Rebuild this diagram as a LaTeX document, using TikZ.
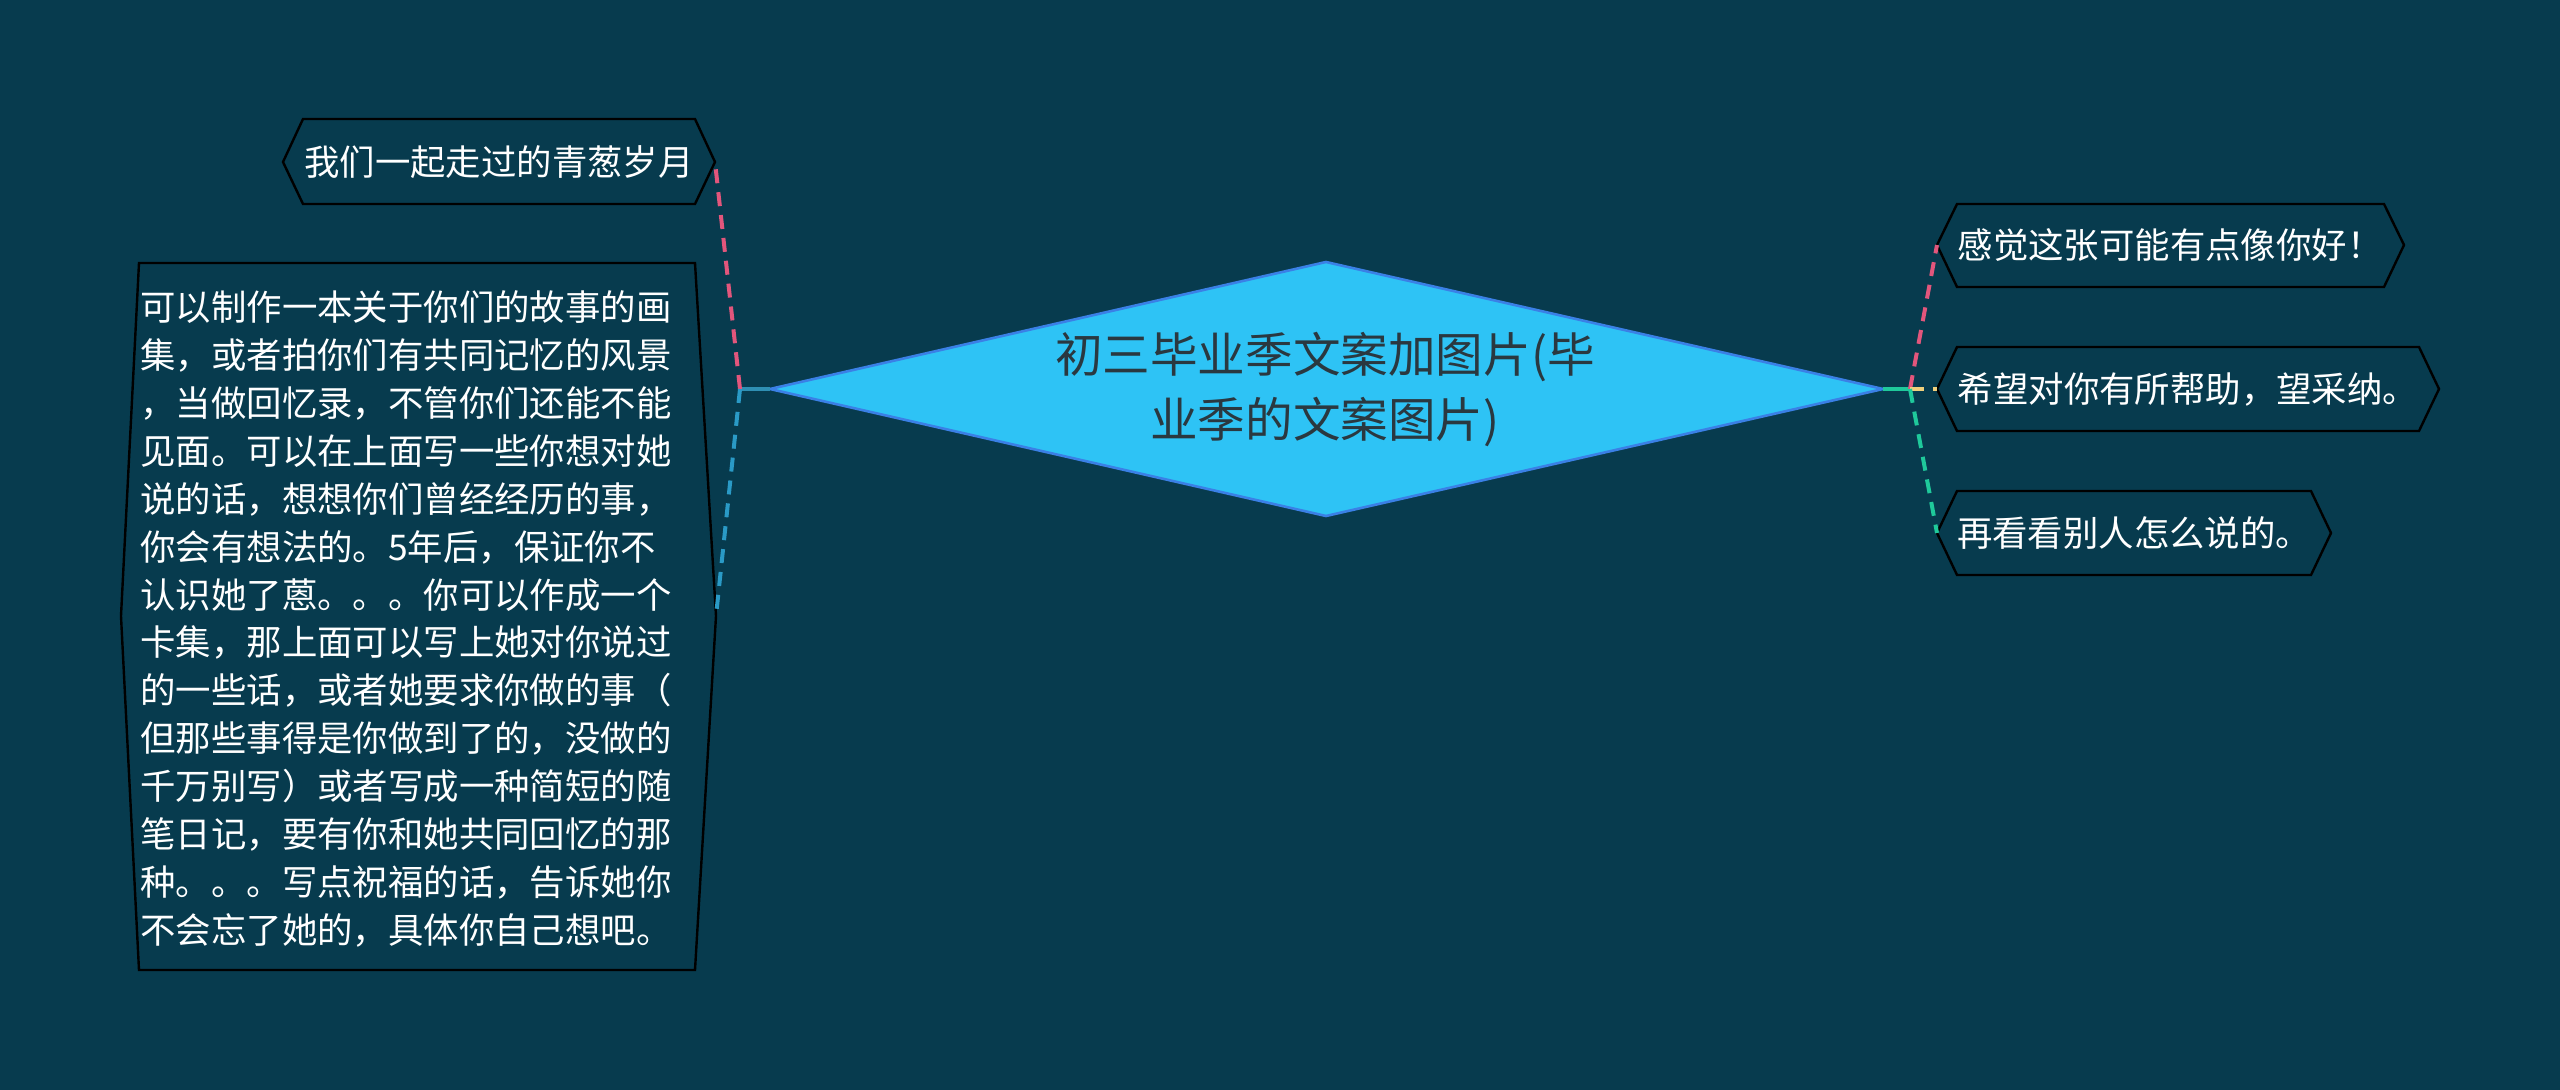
\documentclass[tikz,border=0pt]{standalone}
\usepackage{fontspec}
\setmainfont{Noto Sans CJK SC}
\definecolor{bg}{HTML}{073B4E}
\definecolor{rootfill}{HTML}{2EC3F5}
\definecolor{rootdraw}{HTML}{3A80E6}
\definecolor{roottext}{HTML}{2A3840}
\definecolor{cpink}{HTML}{E2567C}
\definecolor{cblue}{HTML}{2A9AC6}
\definecolor{cteal}{HTML}{2F8FB3}
\definecolor{cyellow}{HTML}{F0D07C}
\definecolor{cgreen}{HTML}{1FC99B}
\tikzset{
  hexbox/.style={draw=black, line width=1.2pt},
  leaftext/.style={text=white, inner sep=0pt, font=\fontsize{17.7pt}{23.95pt}\selectfont},
  linkline/.style={line width=2pt, dash pattern=on 7pt off 4.5pt},
  stemline/.style={line width=2pt},
}
\begin{document}
\begin{tikzpicture}[x=0.5pt,y=-0.5pt]
\fill[bg] (0,0) rectangle (2560,1090);
\useasboundingbox (0,0) rectangle (2560,1090);

% root diamond
\coordinate (rL) at (770,389);
\coordinate (rT) at (1326,262);
\coordinate (rR) at (1883,389);
\coordinate (rB) at (1326,516);
\fill[rootfill] (rL) -- (rT) -- (rR) -- (rB) -- cycle;
\draw[rootdraw, line width=1.3pt, line join=miter] (rL) -- (rT) -- (rR) -- (rB) -- cycle;
\node[text=roottext, align=center, inner sep=0pt, font=\fontsize{23.8pt}{32.5pt}\selectfont] (root) at (1325,390) {初三毕业季文案加图片(毕\\业季的文案图片)};

% left node 1
\coordinate (aL) at (283,162);
\coordinate (aR) at (715,162);
\draw[hexbox] (aL) -- (303,119) -- (695,119) -- (aR) -- (695,204) -- (303,204) -- cycle;
\node[leaftext] (a) at (499,162) {我们一起走过的青葱岁月};

% left big node
\coordinate (bL) at (121,616);
\coordinate (bR) at (716,616);
\draw[hexbox] (bL) -- (139,263) -- (695,263) -- (bR) -- (695,970) -- (139,970) -- cycle;
\node[leaftext, align=left, anchor=west] (b) at (140,619) {可以制作一本关于你们的故事的画\\
集，或者拍你们有共同记忆的风景\\
，当做回忆录，不管你们还能不能\\
见面。可以在上面写一些你想对她\\
说的话，想想你们曾经经历的事，\\
你会有想法的。5年后，保证你不\\
认识她了蒽。。。你可以作成一个\\
卡集，那上面可以写上她对你说过\\
的一些话，或者她要求你做的事（\\
但那些事得是你做到了的，没做的\\
千万别写）或者写成一种简短的随\\
笔日记，要有你和她共同回忆的那\\
种。。。写点祝福的话，告诉她你\\
不会忘了她的，具体你自己想吧。};

% right nodes
\coordinate (cL) at (1937,245);
\draw[hexbox] (cL) -- (1957,204) -- (2384,204) -- (2404,245) -- (2384,287) -- (1957,287) -- cycle;
\node[leaftext] (c) at (2170,245) {感觉这张可能有点像你好！};

\coordinate (dL) at (1937,389);
\draw[hexbox] (dL) -- (1957,347) -- (2419,347) -- (2439,389) -- (2419,431) -- (1957,431) -- cycle;
\node[leaftext] (d) at (2188,389) {希望对你有所帮助，望采纳。};

\coordinate (eL) at (1937,533);
\draw[hexbox] (eL) -- (1957,491) -- (2311,491) -- (2331,533) -- (2311,575) -- (1957,575) -- cycle;
\node[leaftext] (e) at (2134,533) {再看看别人怎么说的。};

% junctions
\coordinate (jl) at (740,389);
\coordinate (jr) at (1910,389);

% left connectors
\draw[stemline, cteal] (rL) -- (jl);
\draw[linkline, cpink] (jl) -- (aR);
\draw[linkline, cblue] (jl) -- (bR);

% right connectors
\draw[stemline, cgreen] (rR) -- (jr);
\draw[linkline, cpink] (jr) -- (cL);
\draw[linkline, cyellow] (jr) -- (dL);
\draw[linkline, cgreen] (jr) -- (eL);
\end{tikzpicture}
\end{document}
